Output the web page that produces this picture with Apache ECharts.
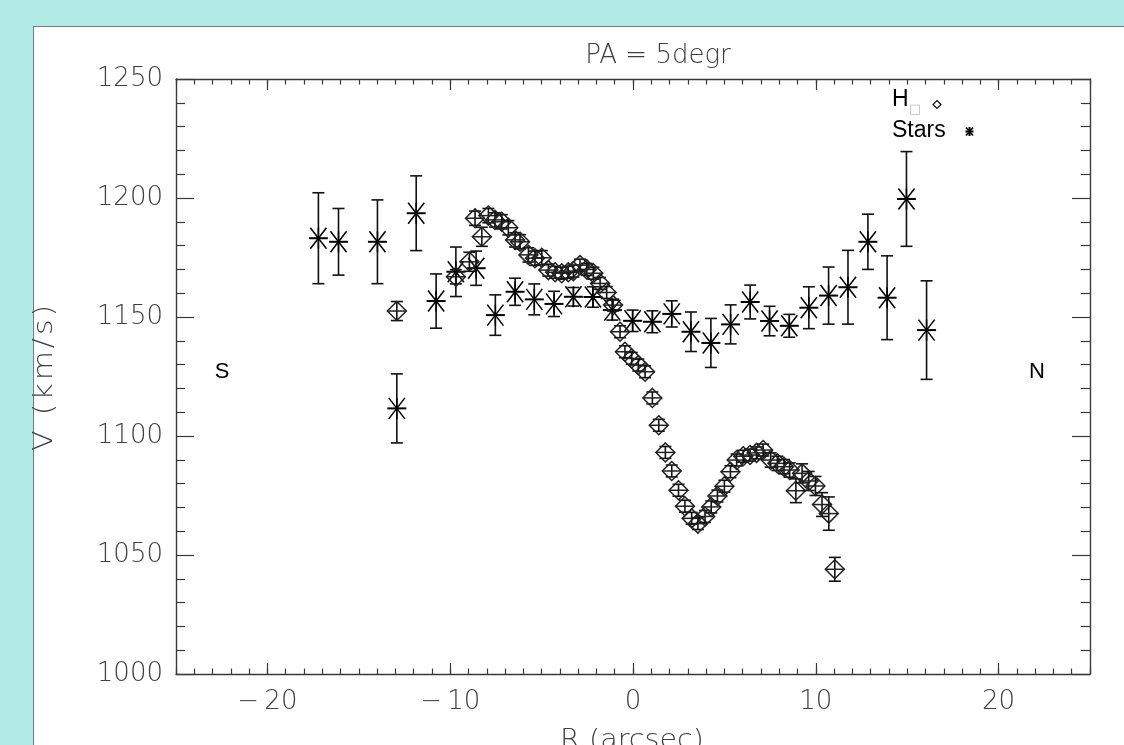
<!DOCTYPE html>
<html>
<head>
<meta charset="utf-8">
<title>PA = 5degr</title>
<script src="https://cdn.jsdelivr.net/npm/echarts@6/dist/echarts.min.js"></script>
<style>
  html, body { margin: 0; padding: 0; width: 1124px; height: 745px; overflow: hidden; background: #b0ebe5; }
  #panel { position: absolute; left: 33px; top: 26px; width: 1091px; height: 719px; background: #ffffff;
           border-left: 1px solid #7c7c7c; border-top: 1px solid #7c7c7c; }
  #chart { position: absolute; left: 0; top: 0; width: 1124px; height: 745px; }
</style>
</head>
<body>
<div id="panel"></div>
<div id="chart"></div>
<script>
// Stellar velocities (asterisks) along the slit, with 1-sigma errors
const starR   = [-17.21, -16.11, -13.98, -12.92, -11.86, -10.77, -9.69, -8.58, -7.53, -6.45,
                 -5.40, -4.32, -3.26, -2.19, -1.13, -0.02, 1.06, 2.12, 3.17, 4.26,
                 5.34, 6.41, 7.47, 8.55, 9.62, 10.70, 11.76, 12.85, 13.90, 14.96, 16.06];
const starV   = [1183.1, 1181.6, 1181.6, 1111.6, 1193.6, 1156.7, 1169.0, 1170.5, 1150.8, 1160.6,
                 1157.4, 1155.5, 1158.5, 1158.4, 1152.9, 1148.4, 1148.0, 1151.3, 1143.8, 1139.1,
                 1146.9, 1156.3, 1148.3, 1146.3, 1153.9, 1159.0, 1162.5, 1181.6, 1158.1, 1199.6, 1144.5];
const starErr = [19.1, 14.0, 17.6, 14.5, 15.7, 11.4, 10.4, 7.2, 8.5, 5.7,
                 6.5, 5.3, 3.9, 4.3, 4.2, 4.5, 4.6, 5.5, 8.3, 10.3,
                 8.2, 7.1, 6.2, 4.8, 8.8, 12.0, 15.5, 11.6, 17.6, 19.9, 20.7];

// Emission-line gas velocities (diamonds) with errors
const gasR   = [-12.92, -9.69, -8.95, -8.64, -8.27, -7.91, -7.55, -7.18, -6.82, -6.45,
                -6.18, -5.72, -5.36, -4.99, -4.63, -4.26, -3.90, -3.54, -3.26, -2.90,
                -2.53, -2.17, -1.80, -1.44, -1.09, -0.71, -0.44, -0.07, 0.29, 0.66,
                1.06, 1.41, 1.77, 2.12, 2.49, 2.84, 3.21, 3.55, 3.94, 4.28,
                4.62, 5.00, 5.33, 5.67, 6.03, 6.40, 6.76, 7.12, 7.53, 7.90,
                8.26, 8.57, 8.91, 9.25, 9.61, 9.98, 10.34, 10.71, 11.04];
const gasV   = [1152.5, 1166.9, 1173.2, 1191.5, 1183.7, 1192.6, 1190.8, 1190.0, 1187.5, 1182.4,
                1181.6, 1176.1, 1174.7, 1174.9, 1169.7, 1168.8, 1168.4, 1168.8, 1169.3, 1171.8,
                1170.0, 1168.4, 1164.1, 1160.3, 1155.0, 1143.8, 1135.4, 1132.6, 1129.8, 1127.0,
                1116.0, 1104.5, 1093.1, 1085.3, 1077.2, 1070.5, 1065.4, 1063.2, 1066.2, 1070.2,
                1074.8, 1078.9, 1085.0, 1089.9, 1091.5, 1092.0, 1092.9, 1094.1, 1089.9, 1088.5,
                1087.1, 1085.7, 1077.0, 1084.3, 1081.1, 1079.0, 1071.2, 1067.4, 1044.0];
const gasErr = [4, 3, 4, 3, 4, 3, 3, 3, 3, 3,
                3, 3, 3, 3, 2.5, 2.5, 2.5, 2.5, 2.5, 2.5,
                2.5, 2.5, 2.5, 2.5, 2.5, 2.5, 2.5, 2.5, 2.5, 2.5,
                2.5, 2.5, 2.5, 2.5, 2.5, 2.5, 2.5, 2.5, 2.5, 2.5,
                2.5, 2.5, 2.5, 2.5, 2.5, 2.5, 2.5, 2.5, 3, 3,
                3, 3, 5, 4, 4, 4, 5, 7, 5];

// Axis ranges and labelled ticks
const xRange = [-25, 25];
const xLabelTicks = [-20, -10, 0, 10, 20];
const yRange = [1000, 1250];
const yStep = 50;

const axisColor = '#3a3a3a';
const labelFont = 'DejaVu Sans';
const labelColor = '#404040';
const labelWeight = 200;

function rows(r, v, e) { return r.map((x, i) => [x, v[i], e[i]]); }

// spread characters apart slightly (wide plotting-font look)
function spaced(s, sep) { return s.split('').join(sep); }

// Error bar plus marker, drawn in data coordinates through the axes
function markRenderer(kind) {
  return function (params, api) {
    const x = api.value(0), y = api.value(1), e = api.value(2);
    const c = api.coord([x, y]);
    const hi = api.coord([x, y + e]);
    const lo = api.coord([x, y - e]);
    const cap = 6;
    const st = { stroke: '#111', lineWidth: 1.6, fill: null };
    const kids = [
      { type: 'line', shape: { x1: c[0], y1: hi[1], x2: c[0], y2: lo[1] }, style: st },
      { type: 'line', shape: { x1: c[0] - cap, y1: hi[1], x2: c[0] + cap, y2: hi[1] }, style: st },
      { type: 'line', shape: { x1: c[0] - cap, y1: lo[1], x2: c[0] + cap, y2: lo[1] }, style: st }
    ];
    if (kind === 'star') {
      const a = 9.5, b = 10.5;
      const s2 = { stroke: '#000', lineWidth: 1.5 };
      kids.push({ type: 'line', shape: { x1: c[0] - a, y1: c[1], x2: c[0] + a, y2: c[1] }, style: { stroke: '#000', lineWidth: 2 } });
      kids.push({ type: 'line', shape: { x1: c[0] - a * 0.85, y1: c[1] - b, x2: c[0] + a * 0.85, y2: c[1] + b }, style: s2 });
      kids.push({ type: 'line', shape: { x1: c[0] - a * 0.85, y1: c[1] + b, x2: c[0] + a * 0.85, y2: c[1] - b }, style: s2 });
      kids.push({ type: 'line', shape: { x1: c[0], y1: c[1] - b, x2: c[0], y2: c[1] + b }, style: s2 });
    } else {
      const d = 9.5;
      const s3 = { stroke: '#222', lineWidth: 1.5, fill: null };
      kids.push({ type: 'polygon', shape: { points: [[c[0], c[1] - d], [c[0] + d, c[1]], [c[0], c[1] + d], [c[0] - d, c[1]]] }, style: s3 });
      kids.push({ type: 'line', shape: { x1: c[0] - d, y1: c[1], x2: c[0] + d, y2: c[1] }, style: s3 });
    }
    return { type: 'group', children: kids };
  };
}

function xAxisPair(pos) {
  return [
    { // every arcsec: short ticks
      type: 'value', gridIndex: 0, position: pos, min: xRange[0], max: xRange[1], interval: 1,
      axisLine: { show: true, onZero: false, lineStyle: { color: axisColor, width: 1.4 } },
      axisTick: { show: true, inside: true, length: 5.5, interval: 0, lineStyle: { color: axisColor, width: 1.2 } },
      axisLabel: { show: false, interval: 0 },
      splitLine: { show: false }
    },
    { // labelled ticks every 10 arcsec
      type: 'value', gridIndex: 0, position: pos, min: xRange[0], max: xRange[1],
      axisLine: { show: false, onZero: false },
      axisTick: { show: true, inside: true, length: 11, customValues: xLabelTicks, lineStyle: { color: axisColor, width: 1.2 } },
      axisLabel: {
        show: pos === 'bottom', customValues: xLabelTicks, margin: 15,
        fontFamily: labelFont, fontWeight: labelWeight, fontSize: 26, color: labelColor,
        formatter: v => String(v).replace('-', '\u2212\u2009')
      },
      splitLine: { show: false }
    }
  ];
}

function yAxisDef(pos) {
  return {
    type: 'value', gridIndex: 0, position: pos, min: yRange[0], max: yRange[1], interval: yStep,
    axisLine: { show: true, onZero: false, lineStyle: { color: axisColor, width: 1.4 } },
    axisTick: { show: true, inside: true, length: 18, lineStyle: { color: axisColor, width: 1.2 } },
    minorTick: { show: true, splitNumber: 5, length: 9, lineStyle: { color: axisColor, width: 1.2 } },
    axisLabel: { show: pos === 'left', margin: 13, fontFamily: labelFont, fontWeight: labelWeight, fontSize: 26, color: labelColor,
                 showMinLabel: true, showMaxLabel: true, formatter: v => String(v) },
    splitLine: { show: false }
  };
}

const chart = echarts.init(document.getElementById('chart'), null, { renderer: 'canvas' });

const thinFont = '200 26px "DejaVu Sans"';

chart.setOption({
  backgroundColor: 'transparent',
  animation: false,
  grid: { left: 176, top: 79, right: 34, bottom: 71, containLabel: false },
  xAxis: [...xAxisPair('bottom'), ...xAxisPair('top')],
  yAxis: [yAxisDef('left'), yAxisDef('right')],
  graphic: [
    { type: 'text', x: 658, y: 56, style: { text: 'PA = 5degr', font: thinFont, fill: labelColor, align: 'center', verticalAlign: 'middle' } },
    { type: 'text', x: 45, y: 378, rotation: Math.PI / 2, scaleX: 1.15, style: { text: spaced('V (km/s)', '\u200A'), font: thinFont, fill: labelColor, align: 'center', verticalAlign: 'middle' } },
    { type: 'text', x: 632, y: 741, scaleX: 1.1, style: { text: 'R (arcsec)', font: thinFont, fill: labelColor, align: 'center', verticalAlign: 'middle' } },
    { type: 'text', x: 222, y: 372, style: { text: 'S', font: '22px "Liberation Sans"', fill: '#000', align: 'center', verticalAlign: 'middle' } },
    { type: 'text', x: 1037, y: 372, style: { text: 'N', font: '22px "Liberation Sans"', fill: '#000', align: 'center', verticalAlign: 'middle' } },
    // key
    { type: 'text', x: 892, y: 100, style: { text: 'H', font: '23px "Liberation Sans"', fill: '#000', align: 'left', verticalAlign: 'middle' } },
    { type: 'text', x: 909, y: 110, style: { text: '\u25A1', font: '13px "DejaVu Sans"', fill: '#bdbdbd', align: 'left', verticalAlign: 'middle' } },
    { type: 'polygon', shape: { points: [[937, 100.5], [941, 104.5], [937, 108.5], [933, 104.5]] }, style: { stroke: '#111', lineWidth: 1.2, fill: null } },
    { type: 'text', x: 892, y: 130.5, style: { text: 'Stars', font: '23px "Liberation Sans"', fill: '#000', align: 'left', verticalAlign: 'middle' } },
    { type: 'group', x: 969.5, y: 131.5, children: [
      { type: 'line', shape: { x1: -4, y1: 0, x2: 4, y2: 0 }, style: { stroke: '#000', lineWidth: 2 } },
      { type: 'line', shape: { x1: 0, y1: -4.5, x2: 0, y2: 4.5 }, style: { stroke: '#000', lineWidth: 2 } },
      { type: 'line', shape: { x1: -3.5, y1: -4, x2: 3.5, y2: 4 }, style: { stroke: '#000', lineWidth: 1.6 } },
      { type: 'line', shape: { x1: -3.5, y1: 4, x2: 3.5, y2: -4 }, style: { stroke: '#000', lineWidth: 1.6 } }
    ] }
  ],
  series: [
    {
      name: 'Stars', type: 'custom', xAxisIndex: 0, yAxisIndex: 0,
      data: rows(starR, starV, starErr), encode: { x: 0, y: 1 },
      renderItem: markRenderer('star'), clip: false, z: 3
    },
    {
      name: 'Gas', type: 'custom', xAxisIndex: 0, yAxisIndex: 0,
      data: rows(gasR, gasV, gasErr), encode: { x: 0, y: 1 },
      renderItem: markRenderer('diamond'), clip: false, z: 4
    }
  ]
});
</script>
</body>
</html>
